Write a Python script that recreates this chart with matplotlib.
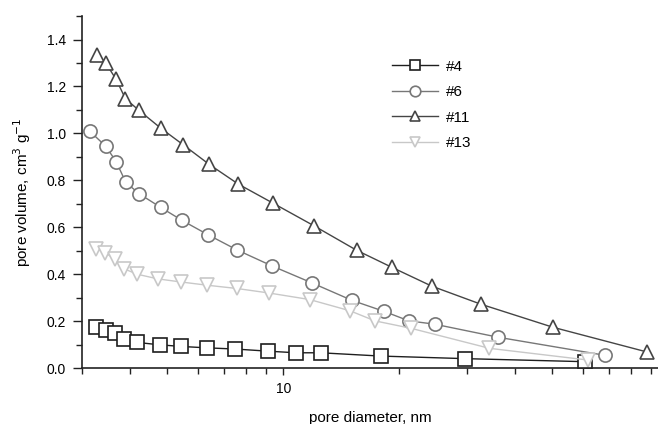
import matplotlib
matplotlib.use('Agg')
import matplotlib.pyplot as plt
from matplotlib.ticker import LogLocator, NullFormatter, FixedLocator, MultipleLocator

plt.rcParams['font.family'] = ['Liberation Sans', 'DejaVu Sans']

# sample #4
d4 = [3.27, 3.455, 3.66, 3.86, 4.18, 4.77, 5.43, 6.34, 7.50, 9.10, 10.8, 12.5, 17.9, 29.7, 60.8]
v4 = [0.174, 0.163, 0.149, 0.122, 0.109, 0.099, 0.092, 0.086, 0.081, 0.072, 0.065, 0.065, 0.051, 0.040, 0.027]
# sample #6
d6 = [3.14, 3.455, 3.68, 3.90, 4.23, 4.80, 5.46, 6.36, 7.59, 9.35, 11.9, 15.1, 18.3, 21.2, 24.7, 36.2, 68.6]
v6 = [1.010, 0.946, 0.880, 0.791, 0.742, 0.685, 0.629, 0.569, 0.503, 0.435, 0.362, 0.288, 0.241, 0.201, 0.187, 0.131, 0.054]
# sample #11
d11 = [3.28, 3.455, 3.68, 3.89, 4.22, 4.80, 5.49, 6.42, 7.64, 9.42, 11.99, 15.5, 19.1, 24.3, 32.6, 50.1, 88.2]
v11 = [1.335, 1.301, 1.230, 1.148, 1.098, 1.023, 0.952, 0.868, 0.784, 0.702, 0.607, 0.502, 0.430, 0.349, 0.272, 0.174, 0.068]
# sample #13
d13 = [3.26, 3.44, 3.66, 3.86, 4.17, 4.72, 5.41, 6.34, 7.58, 9.16, 11.7, 14.9, 17.3, 21.5, 34.3, 61.9]
v13 = [0.509, 0.492, 0.463, 0.423, 0.400, 0.380, 0.367, 0.353, 0.339, 0.320, 0.292, 0.244, 0.201, 0.169, 0.084, 0.034]

labels = ['#4', '#6', '#11', '#13']

fig = plt.figure(figsize=(6.58, 4.24), dpi=100)
ax = fig.add_axes([0.1246, 0.132, 1.0 - 0.1246, 0.962 - 0.132])

series = [
    (d4, v4, 's', '#1e1e1e'),
    (d6, v6, 'o', '#777777'),
    (d11, v11, '^', '#454545'),
    (d13, v13, 'v', '#c8c8c8'),
]
for (x, y, m, c), lab in zip(series, labels):
    ax.plot(x, y, color=c, marker=m, markersize=9.5, markerfacecolor='white',
            markeredgecolor=c, markeredgewidth=1.2, linewidth=1.0, label=lab)

ax.set_xscale('log')
ax.set_xlim(3, 94)
ax.set_ylim(0, 1.5)

ax.xaxis.set_major_locator(FixedLocator([10, 100]))
ax.xaxis.set_major_formatter(matplotlib.ticker.FixedFormatter(['10', '100']))
ax.xaxis.set_minor_locator(LogLocator(base=10, subs=range(2, 10)))
ax.xaxis.set_minor_formatter(NullFormatter())

ax.yaxis.set_major_locator(FixedLocator([0, 0.2, 0.4, 0.6, 0.8, 1.0, 1.2, 1.4]))
ax.yaxis.set_major_formatter(matplotlib.ticker.FuncFormatter(lambda v, p: '%.1f' % v))
ax.yaxis.set_minor_locator(MultipleLocator(0.1))

ax.tick_params(which='major', direction='out', length=6.5, width=1, labelsize=10, pad=5, color='#222222')
ax.tick_params(which='minor', direction='out', length=4, width=1, color='#222222')
ax.tick_params(axis='x', which='major', length=5)

for s in ['top', 'right']:
    ax.spines[s].set_visible(False)
for s in ['left', 'bottom']:
    ax.spines[s].set_linewidth(1.2)
    ax.spines[s].set_color('#222222')

ax.set_xlabel('pore diameter, nm', fontsize=11, labelpad=11)
ax.set_ylabel('pore volume, cm$^{3}$ g$^{-1}$', fontsize=11, labelpad=10)

ax.legend(loc='upper left', bbox_to_anchor=(0.515, 0.915), frameon=False, fontsize=11,
          handlelength=3.0, handletextpad=0.5, labelspacing=0.75, markerscale=0.8)

fig.savefig('out.png', dpi=100)
